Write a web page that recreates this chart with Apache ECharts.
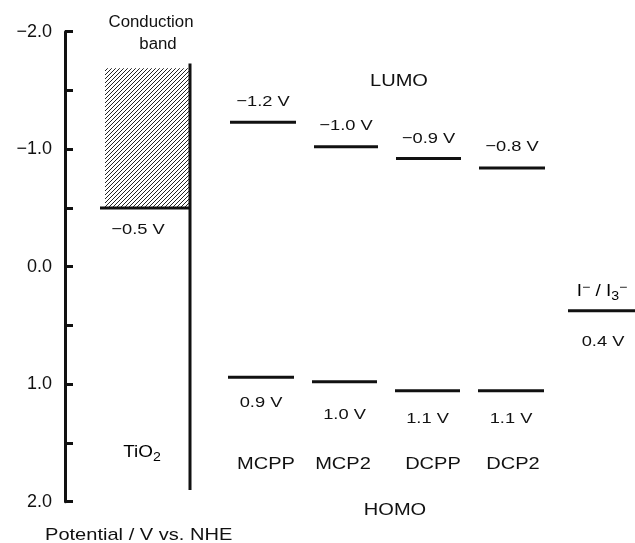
<!DOCTYPE html>
<html>
<head>
<meta charset="utf-8">
<script src="https://cdn.jsdelivr.net/npm/echarts@6/dist/echarts.min.js"></script>
<style>html,body{margin:0;background:#fff}#chart{width:635px;height:543px}</style>
</head>
<body>
<div id="chart"></div>
<script>
// energy levels, V vs. NHE
const molecules = ['MCPP', 'MCP2', 'DCPP', 'DCP2'];
const lumo = [-1.23, -1.02, -0.92, -0.84];
const lumoLabels = ['−1.2 V', '−1.0 V', '−0.9 V', '−0.8 V'];
const homo = [0.94, 0.98, 1.055, 1.055];
const homoLabels = ['0.9 V', '1.0 V', '1.1 V', '1.1 V'];
const tio2Cb = -0.5;
const tio2BandTop = -1.69;
const redox = 0.375;

// layout (x in pixel-like units of the hidden x axis)
const lumoSpans = [[230, 296], [314, 378], [396, 461], [479, 545]];
const homoSpans = [[228, 294], [312, 377], [395, 460], [478, 544]];
const homoDy = [26, 33, 28, 28];
const nameX = [266, 343, 433, 513];
const FONT = '"Liberation Sans", Arial, sans-serif';
const INK = '#111';
const SX = 1.18; // the scan's lettering is a bit wide

// hatch pattern for the conduction band
const tile = document.createElement('canvas');
tile.width = tile.height = 4;
const g = tile.getContext('2d');
g.fillStyle = '#fff'; g.fillRect(0, 0, 4, 4);
g.strokeStyle = '#222'; g.lineWidth = 1;
g.beginPath();
g.moveTo(0, 4); g.lineTo(4, 0);
g.moveTo(-1, 1); g.lineTo(1, -1);
g.moveTo(3, 5); g.lineTo(5, 3);
g.stroke();

function text(x, y, str, size, sx) {
  return {
    type: 'text', x: x, y: y, scaleX: sx || SX,
    style: { text: str, fill: INK, font: size + 'px ' + FONT, align: 'center', verticalAlign: 'middle' }
  };
}

function levelSeries(spans, values, labels, dys) {
  return {
    type: 'custom',
    data: values.map((v, i) => [spans[i][0], spans[i][1], v]),
    renderItem: function (params, api) {
      const i = params.dataIndex;
      const a = api.coord([api.value(0), api.value(2)]);
      const b = api.coord([api.value(1), api.value(2)]);
      return {
        type: 'group',
        children: [
          { type: 'line', shape: { x1: a[0], y1: a[1], x2: b[0], y2: b[1] }, style: { stroke: INK, lineWidth: 3 } },
          text((a[0] + b[0]) / 2, a[1] + dys[i], labels[i], 15.5)
        ]
      };
    }
  };
}

const chart = echarts.init(document.getElementById('chart'));
chart.setOption({
  animation: false,
  grid: { left: 65, right: 0, top: 31.7, bottom: 41.3 },
  xAxis: { type: 'value', min: 65, max: 635, show: false },
  yAxis: {
    type: 'value', inverse: true, min: -2, max: 2, interval: 0.5,
    splitLine: { show: false },
    axisLine: { show: true, lineStyle: { color: INK, width: 3 } },
    axisTick: { inside: true, length: 8, lineStyle: { color: INK, width: 3 } },
    axisLabel: {
      color: INK, fontSize: 18, fontFamily: FONT, margin: 13,
      formatter: v => Number.isInteger(v) ? v.toFixed(1).replace('-', '−') : ''
    }
  },
  series: [
    // TiO2 conduction band
    {
      type: 'custom',
      data: [[105, 190, tio2BandTop, tio2Cb]],
      renderItem: function (params, api) {
        const p0 = api.coord([api.value(0), api.value(2)]);
        const p1 = api.coord([api.value(1), api.value(3)]);
        const edgeL = api.coord([100, api.value(3)]);
        const top = api.coord([190, -1.73]);
        const bottom = api.coord([190, 1.9]);
        return {
          type: 'group',
          children: [
            { type: 'rect', shape: { x: p0[0], y: p0[1], width: p1[0] - p0[0], height: p1[1] - p0[1] },
              style: { fill: { image: tile, repeat: 'repeat' } } },
            { type: 'line', shape: { x1: edgeL[0], y1: edgeL[1], x2: p1[0], y2: p1[1] }, style: { stroke: INK, lineWidth: 3 } },
            { type: 'line', shape: { x1: top[0], y1: top[1], x2: bottom[0], y2: bottom[1] }, style: { stroke: INK, lineWidth: 3 } },
            text(138, p1[1] + 22, '−0.5 V', 15.5)
          ]
        };
      }
    },
    levelSeries(lumoSpans, lumo, lumoLabels, [-20, -21, -20, -21]),
    levelSeries(homoSpans, homo, homoLabels, homoDy),
    // I-/I3- redox level
    {
      type: 'custom',
      data: [[568, 635, redox]],
      renderItem: function (params, api) {
        const a = api.coord([api.value(0), api.value(2)]);
        const b = api.coord([api.value(1), api.value(2)]);
        return {
          type: 'group',
          children: [
            { type: 'line', shape: { x1: a[0], y1: a[1], x2: b[0], y2: b[1] }, style: { stroke: INK, lineWidth: 3 } },
            text(603, a[1] + 31, '0.4 V', 15.5),
            {
              type: 'text', x: 602, y: a[1] - 19, scaleX: SX,
              style: {
                text: '{b|I}{sup|−}{b| / I}{sub|3}{sup|−}',
                align: 'center', verticalAlign: 'middle',
                rich: {
                  b: { fontSize: 16, fontFamily: FONT, color: INK, lineHeight: 22 },
                  sup: { fontSize: 12, fontFamily: FONT, color: INK, lineHeight: 22, padding: [0, 0, 9, 0] },
                  sub: { fontSize: 12, fontFamily: FONT, color: INK, lineHeight: 22, padding: [9, 0, 0, 0] }
                }
              }
            }
          ]
        };
      }
    },
    // molecule names
    {
      type: 'custom',
      data: molecules.map((m, i) => [nameX[i], 1.68]),
      renderItem: function (params, api) {
        const p = api.coord([api.value(0), api.value(1)]);
        return text(p[0], p[1], molecules[params.dataIndex], 17);
      }
    }
  ],
  graphic: [
    text(151, 23, 'Conduction', 16, 1.05),
    text(158, 45, 'band', 16, 1.05),
    text(399, 81, 'LUMO', 17),
    text(395, 510, 'HOMO', 17),
    {
      type: 'text', x: 142, y: 453, scaleX: SX,
      style: {
        text: '{b|TiO}{sub|2}', align: 'center', verticalAlign: 'middle',
        rich: {
          b: { fontSize: 16, fontFamily: FONT, color: INK, lineHeight: 22 },
          sub: { fontSize: 12, fontFamily: FONT, color: INK, lineHeight: 22, padding: [9, 0, 0, 0] }
        }
      }
    },
    { type: 'text', x: 45, y: 535, scaleX: SX,
      style: { text: 'Potential / V vs. NHE', fill: INK, font: '17px ' + FONT, align: 'left', verticalAlign: 'middle' } }
  ]
});
</script>
</body>
</html>
